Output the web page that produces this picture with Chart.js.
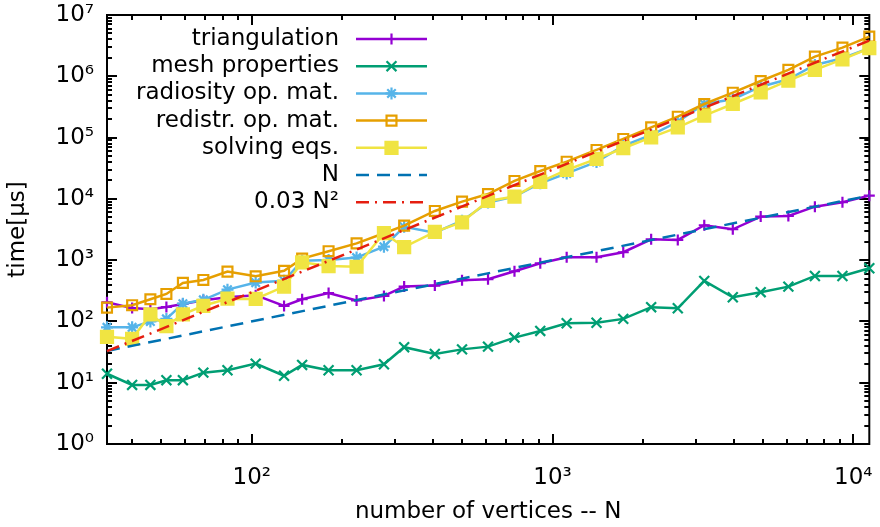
<!DOCTYPE html>
<html>
<head>
<meta charset="utf-8">
<script src="https://cdn.jsdelivr.net/npm/chart.js@4.4.1/dist/chart.umd.min.js"></script>
<style>
html,body{margin:0;padding:0;background:#fff;}
canvas{display:block;}
</style>
</head>
<body>
<canvas id="c" width="880" height="527"></canvas>
<script>
// ---- data ----
const N = [33, 40, 46, 52, 59, 69, 83, 103, 128, 147, 180, 223, 275, 321, 406, 500, 610, 747, 910, 1114, 1400, 1718, 2127, 2608, 3194, 3974, 4920, 6081, 7450, 9200, 11300];
const triangulation = [205, 165, 158, 172, 193, 222, 248, 268, 179, 230, 290, 220, 261, 370, 384, 470, 488, 659, 890, 1114, 1114, 1345, 2190, 2137, 3710, 3190, 5130, 5265, 7460, 8800, 11280];
const meshProperties = [14, 9.2, 9.2, 11, 11, 14.6, 16, 20.5, 13, 19.5, 16, 16, 20, 38, 29.5, 35, 38.8, 54.5, 70, 93.5, 95, 110, 171, 164, 458, 248, 300, 370, 552, 552, 738];
const radiosityOpMat = [80, 80, 100, 110, 195, 225, 330, 430, 460, 980, 1010, 1100, 1660, 3500, 2800, 4400, 8700, 10900, 18000, 26000, 40000, 73000, 110000, 181000, 353000, 422000, 677000, 893000, 1530000, 1970000, 2870000];
const redistrOpMat = [168, 184, 230, 281, 425, 475, 650, 545, 670, 1060, 1400, 1880, 2750, 3660, 6350, 9000, 12000, 19600, 28500, 40400, 62800, 95000, 147000, 219000, 353000, 540000, 838000, 1270000, 2090000, 2930000, 4430000];
const solvingEqs = [56, 52, 130, 84, 130, 180, 235, 233, 370, 920, 800, 780, 2750, 1630, 2900, 4150, 9250, 10900, 19000, 29600, 45000, 67000, 101000, 147000, 228000, 353000, 548000, 847000, 1270000, 1890000, 2870000];
// reference lines (end points)
const refLineN_x = [33, 11300];
const refLineN_y = [33, 11300];
const refLineQ_x = [33, 11300];
const refLineQ_y = [32.7, 3830700];
// ticks
const xTickValues = [100, 1000, 10000];
const xTickLabels = ['10²', '10³', '10⁴'];
const yTickValues = [1, 10, 100, 1000, 10000, 100000, 1000000, 10000000];
const yTickLabels = ['10⁰', '10¹', '10²', '10³', '10⁴', '10⁵', '10⁶', '10⁷'];
const seriesNames = ['triangulation', 'mesh properties', 'radiosity op. mat.', 'redistr. op. mat.', 'solving eqs.', 'N', '0.03 N²'];

const FONT = 'DejaVu Sans';
const pts = (xs, ys) => xs.map((x, i) => ({x: x, y: ys[i]}));

const styles = [
  {color:'#9400d3', point:'cross', r:5.5, fill:true, dash:[]},
  {color:'#009e73', point:'crossRot', r:7, fill:true, dash:[]},
  {color:'#56b4e9', point:'star', r:6, fill:true, dash:[]},
  {color:'#e69f00', point:'rect', r:7, fill:false, dash:[]},
  {color:'#f0e442', point:'rect', r:8.5, fill:true, dash:[]},
  {color:'#0072b2', point:false, r:0, fill:false, dash:[13, 8]},
  {color:'#e51e10', point:false, r:0, fill:false, dash:[13, 6, 2, 6]}
];
const seriesData = [
  pts(N, triangulation), pts(N, meshProperties), pts(N, radiosityOpMat),
  pts(N, redistrOpMat), pts(N, solvingEqs),
  pts(refLineN_x, refLineN_y), pts(refLineQ_x, refLineQ_y)
];

const datasets = seriesData.map((d, i) => {
  const s = styles[i];
  return {
    label: seriesNames[i],
    data: d,
    showLine: true,
    borderColor: s.color,
    backgroundColor: s.color,
    borderWidth: 2.5,
    borderDash: s.dash,
    pointStyle: s.point || 'circle',
    pointRadius: s.r,
    pointHoverRadius: s.r,
    pointBorderColor: s.color,
    pointBackgroundColor: s.fill ? s.color : 'rgba(0,0,0,0)',
    pointBorderWidth: 2.2,
    tension: 0,
    clip: false,
    order: 10 - i
  };
});

function drawMarker(ctx, style, x, y, r, fill) {
  ctx.save();
  ctx.setLineDash([]);
  ctx.lineWidth = 2.2;
  ctx.beginPath();
  if (style === 'cross' || style === 'star') {
    ctx.moveTo(x - r, y); ctx.lineTo(x + r, y);
    ctx.moveTo(x, y - r); ctx.lineTo(x, y + r);
  }
  if (style === 'crossRot' || style === 'star') {
    const o = r * Math.SQRT1_2;
    ctx.moveTo(x - o, y - o); ctx.lineTo(x + o, y + o);
    ctx.moveTo(x - o, y + o); ctx.lineTo(x + o, y - o);
  }
  ctx.stroke();
  if (style === 'rect') {
    const h = r * Math.SQRT1_2;
    ctx.beginPath();
    ctx.rect(x - h, y - h, 2 * h, 2 * h);
    if (fill) ctx.fill();
    ctx.stroke();
  }
  ctx.restore();
}

const framePlugin = {
  id: 'frameTicks',
  beforeDatasetsDraw(chart) {
    const {ctx, chartArea: a, scales} = chart;
    const xs = scales.x, ys = scales.y;
    ctx.save();
    ctx.strokeStyle = '#000';
    ctx.lineWidth = 2;
    ctx.beginPath();
    for (let e = 1; e <= 4; e++) {
      for (let m = 1; m <= 9; m++) {
        const v = m * Math.pow(10, e);
        if (v < xs.min || v > xs.max) continue;
        const px = Math.round(xs.getPixelForValue(v));
        const len = m === 1 ? 10 : 5;
        ctx.moveTo(px, a.bottom); ctx.lineTo(px, a.bottom - len);
        ctx.moveTo(px, a.top); ctx.lineTo(px, a.top + len);
      }
    }
    for (let e = 0; e <= 7; e++) {
      for (let m = 1; m <= 9; m++) {
        const v = m * Math.pow(10, e);
        if (v < ys.min || v > ys.max) continue;
        const py = Math.round(ys.getPixelForValue(v));
        const len = m === 1 ? 10 : 5;
        ctx.moveTo(a.left, py); ctx.lineTo(a.left + len, py);
        ctx.moveTo(a.right, py); ctx.lineTo(a.right - len, py);
      }
    }
    ctx.stroke();
    ctx.strokeRect(a.left, a.top, a.right - a.left, a.bottom - a.top);
    ctx.restore();
  },
  afterDatasetsDraw(chart) {
    const ctx = chart.ctx;
    const textRight = 339, x0 = 356, x1 = 427, y0 = 39, dy = 27.2;
    ctx.save();
    ctx.font = '23px "' + FONT + '"';
    ctx.textAlign = 'right';
    ctx.textBaseline = 'middle';
    seriesNames.forEach((name, i) => {
      const y = y0 + i * dy;
      const s = styles[i];
      ctx.fillStyle = '#000';
      ctx.fillText(name, textRight, y);
      ctx.strokeStyle = s.color;
      ctx.fillStyle = s.color;
      ctx.lineWidth = 2.5;
      ctx.setLineDash(s.dash);
      ctx.beginPath();
      ctx.moveTo(x0, y); ctx.lineTo(x1, y);
      ctx.stroke();
      if (s.point) drawMarker(ctx, s.point, (x0 + x1) / 2, y, s.r, s.fill);
    });
    ctx.restore();
  }
};

new Chart(document.getElementById('c'), {
  type: 'scatter',
  data: {datasets: datasets},
  options: {
    responsive: false,
    animation: false,
    devicePixelRatio: 1,
    layout: {padding: {top: 15, right: 7, left: 0, bottom: 0}},
    plugins: {legend: {display: false}, tooltip: {enabled: false}},
    scales: {
      x: {
        type: 'logarithmic',
        min: 33, max: 11300,
        afterBuildTicks: (s) => { s.ticks = xTickValues.map(v => ({value: v})); },
        afterFit: (s) => { s.height = 83; s.paddingLeft = 0; s.paddingRight = 0; },
        grid: {display: false, drawTicks: false},
        border: {display: false},
        ticks: {
          font: {family: FONT, size: 23}, color: '#000', padding: 20, maxRotation: 0,
          callback: (v) => { const i = xTickValues.indexOf(v); return i >= 0 ? xTickLabels[i] : ''; }
        },
        title: {display: true, text: 'number of vertices -- N', font: {family: FONT, size: 23}, color: '#000', padding: {top: 4, bottom: 1}}
      },
      y: {
        type: 'logarithmic',
        min: 1, max: 10000000,
        afterBuildTicks: (s) => { s.ticks = yTickValues.map(v => ({value: v})); },
        afterFit: (s) => { s.width = 107; s.paddingTop = 0; s.paddingBottom = 0; },
        grid: {display: false, drawTicks: false},
        border: {display: false},
        ticks: {
          font: {family: FONT, size: 23}, color: '#000', padding: 13,
          callback: (v) => { const i = yTickValues.indexOf(v); return i >= 0 ? yTickLabels[i] : ''; }
        },
        title: {display: true, text: 'time[µs]', font: {family: FONT, size: 23}, color: '#000', padding: {top: 4, bottom: 8}}
      }
    }
  },
  plugins: [framePlugin]
});
</script>
</body>
</html>
